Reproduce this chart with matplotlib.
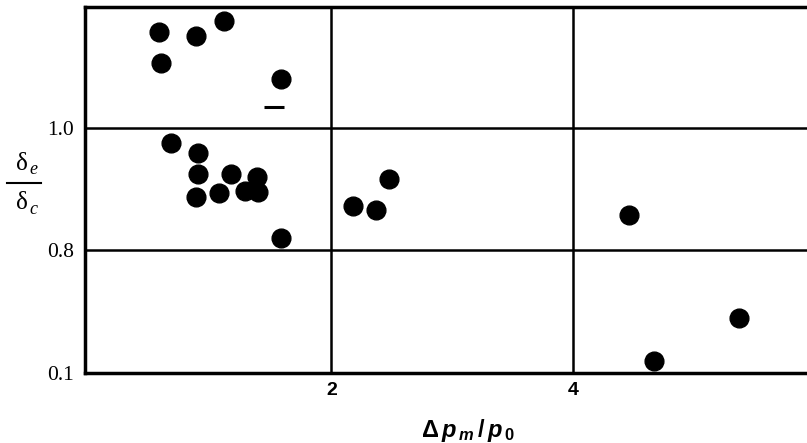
import matplotlib.pyplot as plt

plt.rcParams['mathtext.fontset'] = 'custom'
plt.rcParams['mathtext.rm'] = 'Liberation Sans:bold'
plt.rcParams['mathtext.it'] = 'Liberation Sans:italic:bold'
plt.rcParams['mathtext.bf'] = 'Liberation Sans:bold'

# measured points: x = Δp_m/p_0, y = position on the ratio scale (grid rows 0..3)
pressure = [0.574, 0.593, 0.880, 1.112, 1.583,
            0.671, 0.897, 0.897, 1.172, 1.387, 0.878, 1.073, 1.288, 1.390, 1.583,
            2.175, 2.365, 2.478, 4.459, 5.368, 4.663]
ratio_pos = [2.784, 2.526, 2.749, 2.869, 2.395,
             1.878, 1.791, 1.620, 1.624, 1.598, 1.434, 1.469, 1.486, 1.475, 1.097,
             1.361, 1.328, 1.584, 1.285, 0.449, 0.098]

# single dash-marked reading
dash_x = [1.525]
dash_y = [2.171]

y_ticks = [0, 1, 2]
y_labels = ['0.1', '0.8', '1.0']
x_ticks = [2, 4]
x_labels = ['2', '4']

fig = plt.figure(figsize=(8.07, 4.43), dpi=100)
ax = fig.add_axes([0.1053, 0.1587, 0.8947, 0.8255])

for yt in y_ticks[1:]:
    ax.axhline(yt, color='black', lw=1.8, zorder=1)
for xt in x_ticks:
    ax.axvline(xt, color='black', lw=1.8, zorder=1)

ax.plot(pressure, ratio_pos, 'o', color='black', ms=13.5, zorder=3)
ax.plot(dash_x, dash_y, '_', color='black', ms=14, mew=2.2, zorder=3)

ax.set_xlim(-0.037, 5.93)
ax.set_ylim(0, 2.985)

ax.set_yticks(y_ticks)
ax.set_yticklabels(y_labels, family='Liberation Serif', fontsize=15.5)
ax.set_xticks(x_ticks)
ax.set_xticklabels(x_labels, family='Liberation Sans', fontweight='bold', fontsize=14)
ax.tick_params(length=0)
ax.tick_params(axis='y', pad=8)
ax.tick_params(axis='x', pad=7)

for side in ['left', 'bottom', 'top']:
    ax.spines[side].set_linewidth(2.5)
ax.spines['right'].set_visible(False)

ax.set_xlabel(r'$\Delta\,p_{\,m}\,/\,p_{\,0}$', fontsize=17)
ax.xaxis.set_label_coords(0.53, -0.12)

# stacked fraction label for the ratio axis: δ_e over δ_c
serif = 'Liberation Serif'
fig.text(22 / 807, 1 - 164 / 443, 'δ', family=serif, fontsize=18,
         ha='center', va='center')
fig.text(33 / 807, 1 - 170 / 443, 'e', family=serif, style='italic',
         fontsize=13, ha='center', va='center')
fig.text(22 / 807, 1 - 203 / 443, 'δ', family=serif, fontsize=18,
         ha='center', va='center')
fig.text(33 / 807, 1 - 209 / 443, 'c', family=serif, style='italic',
         fontsize=13, ha='center', va='center')
fig.add_artist(plt.Line2D([7 / 807, 41 / 807], [1 - 183 / 443, 1 - 183 / 443],
                          color='black', lw=1.5))

fig.savefig('out.png', dpi=100)
